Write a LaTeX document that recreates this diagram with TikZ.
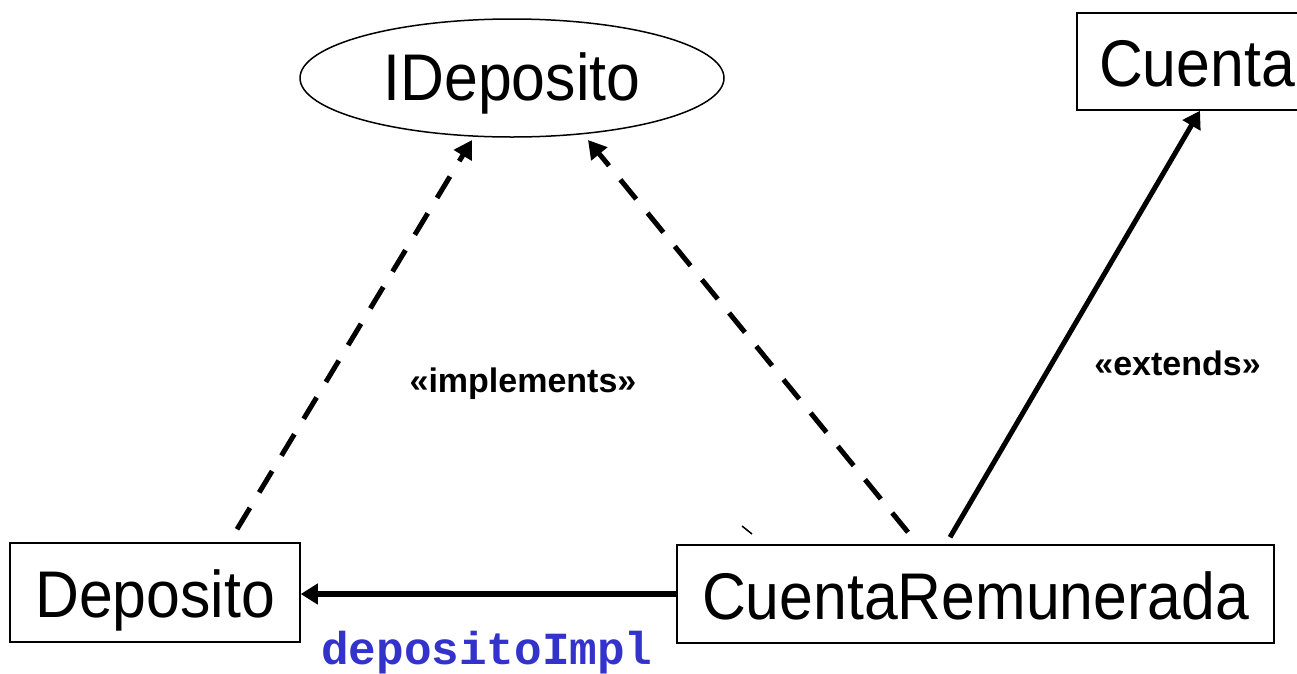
\documentclass[tikz,border=0pt]{standalone}
\usepackage{fontspec}
\setmainfont{Liberation Sans}
\newfontfamily\narrowfont[FakeStretch=0.92]{Liberation Sans}
\newfontfamily\labelfont{Liberation Sans}
\newfontfamily\codefont{Liberation Mono}
\usetikzlibrary{arrows.meta,shapes.geometric,calc}
\definecolor{codeblue}{RGB}{51,51,204}
\begin{document}
\begin{tikzpicture}[x=1pt,y=-1pt,
  classbox/.style={draw,line width=1.5pt,inner sep=0pt,font=\narrowfont\fontsize{66}{66}\selectfont,text height=50pt,text depth=0pt},
  iface/.style={draw,ellipse,line width=1.5pt,inner sep=0pt,font=\narrowfont\fontsize{66}{66}\selectfont,text height=44pt,text depth=0pt},
  stereo/.style={font=\labelfont\bfseries\fontsize{34}{34}\selectfont,inner sep=0pt,anchor=base},
  realize/.style={line width=5pt,dash pattern=on 25pt off 18pt,-{Triangle[length=18pt,width=20pt]}},
  assoc/.style={line width=6pt,-{Triangle[length=17pt,width=20pt]}}]
\useasboundingbox (0,0) rectangle (1297,673);
\clip (0,0) rectangle (1297,673);
\fill[white] (0,0) rectangle (1297,673);

\node[iface,minimum width=424pt,minimum height=118pt] (idep) at (512,78) {IDeposito};
\node[classbox,minimum width=240pt,minimum height=97pt] (cuenta) at (1197,61.5) {Cuenta};
\node[classbox,minimum width=290pt,minimum height=99pt] (dep) at (155,592.5) {Deposito};
\node[classbox,minimum width=597pt,minimum height=98pt] (cr) at (975.5,594) {CuentaRemunerada};

\draw[realize] ($(dep.north)+(82,-13)$) -- ($(idep.center)+(-40,62)$);
\draw[realize] ($(cr.north)+(-67.5,-12)$) -- ($(idep.center)+(76,62)$);
\draw[assoc,line width=5pt] ($(cr.north)+(-25.5,-7)$) -- ($(cuenta.south)+(3,0)$);
\draw[assoc] (cr.west) -- (cr.west -| dep.east);

\node[stereo] (impl) at (523,392) {«implements»};
\node[stereo] (ext) at (1177.5,375) {«extends»};
\node[font=\codefont\bfseries\fontsize{46}{46}\selectfont,text=codeblue,inner sep=0pt,anchor=base west] (role) at (321,664) {depositoImpl};

\draw[line width=1.5pt] (742,526) -- (752,534);
\end{tikzpicture}
\end{document}
